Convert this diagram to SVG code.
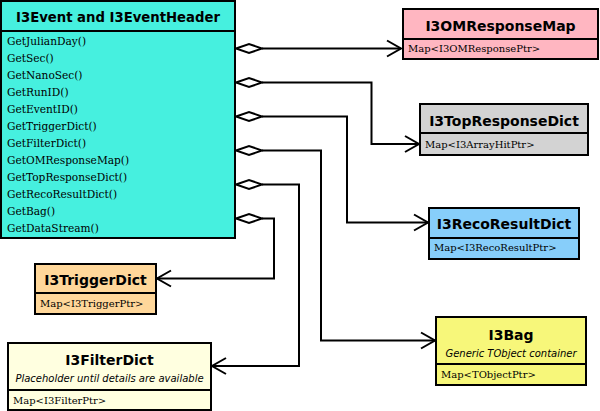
<svg xmlns="http://www.w3.org/2000/svg" width="600" height="411" viewBox="0 0 600 411">
<defs>
<style>
.box{stroke:#000;stroke-width:2}
.div{stroke:#000;stroke-width:2}
.title{font-family:"DejaVu Sans",sans-serif;font-weight:bold;font-size:14px;text-anchor:middle;fill:#000}
.sub{font-family:"DejaVu Sans",sans-serif;font-style:italic;font-size:10px;text-anchor:middle;fill:#000}
.mem{font-family:"DejaVu Serif",serif;font-size:10px;fill:#000}
.meth{font-family:"DejaVu Serif",serif;font-size:10.6px;fill:#000}
.conn{fill:none;stroke:#000;stroke-width:2}
.dia{fill:#fff;stroke:#000;stroke-width:2}
.arr{fill:none;stroke:#000;stroke-width:2}
</style>
</defs>
<rect width="600" height="411" fill="#fff"/>
<g id="connectors">
<polyline class="conn" points="262,48.5 401,48.5"/>
<polyline class="arr" points="387,40.5 401,48.5 387,56.5"/>
<polyline class="conn" points="262,82.5 371.5,82.5 371.5,144 419,144"/>
<polyline class="arr" points="405,136 419,144 405,152"/>
<polyline class="conn" points="262,116.5 347,116.5 347,222.5 428,222.5"/>
<polyline class="arr" points="414,214.5 428,222.5 414,230.5"/>
<polyline class="conn" points="262,150.5 321,150.5 321,340.5 435,340.5"/>
<polyline class="arr" points="421,332.5 435,340.5 421,348.5"/>
<polyline class="conn" points="262,184.5 299,184.5 299,366 212,366"/>
<polyline class="arr" points="226,358 212,366 226,374"/>
<polyline class="conn" points="262,218.5 274,218.5 274,278.5 157,278.5"/>
<polyline class="arr" points="171,270.5 157,278.5 171,286.5"/>
<polygon class="dia" points="236,48.5 249,44 262,48.5 249,53"/>
<polygon class="dia" points="236,82.5 249,78 262,82.5 249,87"/>
<polygon class="dia" points="236,116.5 249,112 262,116.5 249,121"/>
<polygon class="dia" points="236,150.5 249,146 262,150.5 249,155"/>
<polygon class="dia" points="236,184.5 249,180 262,184.5 249,189"/>
<polygon class="dia" points="236,218.5 249,214 262,218.5 249,223"/>
</g>
<g id="I3Event">
<rect class="box" x="1" y="1" width="234" height="237" fill="#46F0DF"/>
<line class="div" x1="1" y1="31" x2="235" y2="31"/>
<text class="title" x="118" y="22" textLength="204" lengthAdjust="spacingAndGlyphs">I3Event and I3EventHeader</text>
<text class="meth" x="7" y="45">GetJulianDay()</text>
<text class="meth" x="7" y="62">GetSec()</text>
<text class="meth" x="7" y="79">GetNanoSec()</text>
<text class="meth" x="7" y="96">GetRunID()</text>
<text class="meth" x="7" y="113">GetEventID()</text>
<text class="meth" x="7" y="130">GetTriggerDict()</text>
<text class="meth" x="7" y="147">GetFilterDict()</text>
<text class="meth" x="7" y="164">GetOMResponseMap()</text>
<text class="meth" x="7" y="181">GetTopResponseDict()</text>
<text class="meth" x="7" y="198">GetRecoResultDict()</text>
<text class="meth" x="7" y="215">GetBag()</text>
<text class="meth" x="7" y="232">GetDataStream()</text>
</g>
<g id="I3OMResponseMap">
<rect class="box" x="403" y="9" width="195" height="50" fill="#FFB6C1"/>
<line class="div" x1="403" y1="39" x2="598" y2="39"/>
<text class="title" x="500.5" y="31">I3OMResponseMap</text>
<text class="mem" x="408" y="52">Map&lt;I3OMResponsePtr&gt;</text>
</g>
<g id="I3TopResponseDict">
<rect class="box" x="420" y="104" width="168" height="51" fill="#D3D3D3"/>
<line class="div" x1="420" y1="133" x2="588" y2="133"/>
<text class="title" x="504" y="126">I3TopResponseDict</text>
<text class="mem" x="425" y="148">Map&lt;I3ArrayHitPtr&gt;</text>
</g>
<g id="I3RecoResultDict">
<rect class="box" x="429" y="208" width="150" height="51" fill="#87CEFA"/>
<line class="div" x1="429" y1="238" x2="579" y2="238"/>
<text class="title" x="504" y="229">I3RecoResultDict</text>
<text class="mem" x="434" y="251">Map&lt;I3RecoResultPtr&gt;</text>
</g>
<g id="I3Bag">
<rect class="box" x="436" y="317" width="150" height="68" fill="#F7F77A"/>
<line class="div" x1="436" y1="364" x2="586" y2="364"/>
<text class="title" x="511" y="340">I3Bag</text>
<text class="sub" x="511" y="357">Generic TObject container</text>
<text class="mem" x="441" y="378">Map&lt;TObjectPtr&gt;</text>
</g>
<g id="I3FilterDict">
<rect class="box" x="8" y="343" width="203" height="67" fill="#FFFFE0"/>
<line class="div" x1="8" y1="390" x2="211" y2="390"/>
<text class="title" x="109.5" y="365">I3FilterDict</text>
<text class="sub" x="109.5" y="382">Placeholder until details are available</text>
<text class="mem" x="13" y="404">Map&lt;I3FilterPtr&gt;</text>
</g>
<g id="I3TriggerDict">
<rect class="box" x="35" y="264" width="121" height="50" fill="#FFD79A"/>
<line class="div" x1="35" y1="293" x2="156" y2="293"/>
<text class="title" x="95.5" y="285">I3TriggerDict</text>
<text class="mem" x="40" y="307">Map&lt;I3TriggerPtr&gt;</text>
</g>
</svg>
